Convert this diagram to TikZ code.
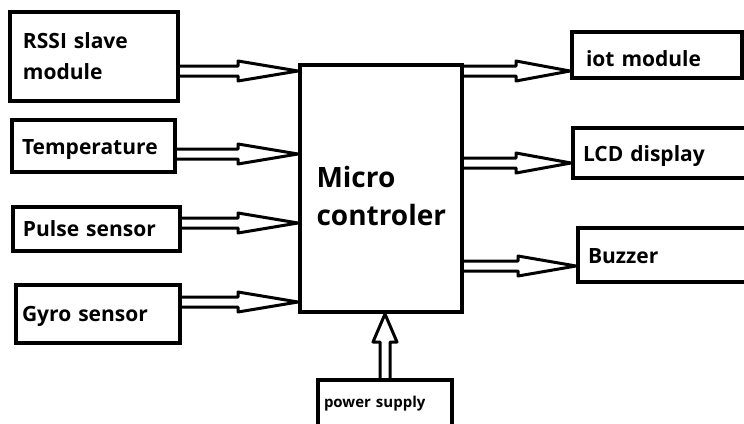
\documentclass[tikz,border=0pt]{standalone}
\usepackage{fontspec}
\setmainfont{Open Sans}
\usetikzlibrary{calc}

% hollow arrow, left to right: [head length] start, tip
\newcommand{\fatarrow}[3][58pt]{%
  \draw[fat] let \p1=(#2), \p2=(#3) in
    (\x1,\y1+5pt) -- (\x2-#1,\y1+5pt) -- (\x2-#1,\y1+10pt) -- (\x2,\y1)
    -- (\x2-#1,\y1-10pt) -- (\x2-#1,\y1-5pt) -- (\x1,\y1-5pt);}
% hollow arrow, bottom to top
\newcommand{\fatarrowup}[3][28pt]{%
  \draw[fat] let \p1=(#2), \p2=(#3) in
    (\x1-5pt,\y1) -- (\x1-5pt,\y2-#1) -- (\x1-12pt,\y2-#1) -- (\x1,\y2)
    -- (\x1+12pt,\y2-#1) -- (\x1+5pt,\y2-#1) -- (\x1+5pt,\y1);}

\begin{document}
\begin{tikzpicture}[x=1pt,y=-1pt,
    box/.style={draw, line width=4pt, align=left, inner xsep=10pt, inner ysep=0pt,
      font=\bfseries\fontsize{21}{31}\selectfont},
    oneline/.style={text height=#1, text depth=5pt},
    fat/.style={line width=3pt, line join=round}]
    \useasboundingbox (0,0) rectangle (744,423);
    \clip (0,0) rectangle (744,423);

    % Nodes
    \node[box, text width=142pt, inner xsep=13pt, minimum height=89pt] (rssi) at (94,56.5) {RSSI slave\\module};
    \node[box, oneline=21pt, text width=143pt, minimum height=52pt] (temp) at (93.5,146) {Temperature};
    \node[box, oneline=19pt, text width=147pt, minimum height=44pt] (pulse) at (96.5,229) {Pulse sensor};
    \node[box, oneline=19pt, text width=152pt, inner xsep=6pt, minimum height=58pt] (gyro) at (98,314) {Gyro sensor};

    \node[draw, line width=4pt, minimum width=162pt, minimum height=247pt] (micro) at (381,188.5) {};
    \node[anchor=west, align=left, font=\bfseries\fontsize{28}{38}\selectfont] (microlabel) at (313,196) {Micro\\controler};

    \node[box, oneline=27pt, text width=142pt, inner xsep=14pt, minimum height=46pt] (iot) at (657,55) {iot module};
    \node[box, oneline=22pt, text width=167pt, minimum height=50pt] (lcd) at (666.5,153) {LCD display};
    \node[box, oneline=21pt, text width=162pt, minimum height=54pt] (buzzer) at (669,255) {Buzzer};
    \node[box, text width=122pt, inner xsep=6pt, minimum height=60pt,
      font=\bfseries\fontsize{15}{20}\selectfont, text depth=2pt] (power) at (385,410) {\raisebox{14pt}{power supply}};

    % Edges
    \fatarrow[60pt]{rssi.east |- 0,71}{micro.west |- 0,71}
    \fatarrow[60pt]{temp.east |- 0,154}{micro.west |- 0,154}
    \fatarrow[60pt]{pulse.east |- 0,223}{micro.west |- 0,223}
    \fatarrow[60pt]{gyro.east |- 0,302}{micro.west |- 0,302}
    \fatarrow[54pt]{micro.east |- 0,71}{iot.west |- 0,71}
    \fatarrow[55pt]{micro.east |- 0,163}{lcd.west |- 0,163}
    \fatarrow[58pt]{micro.east |- 0,266}{buzzer.west |- 0,266}
    \fatarrowup{power.north}{micro.south -| power.north}
\end{tikzpicture}
\end{document}
